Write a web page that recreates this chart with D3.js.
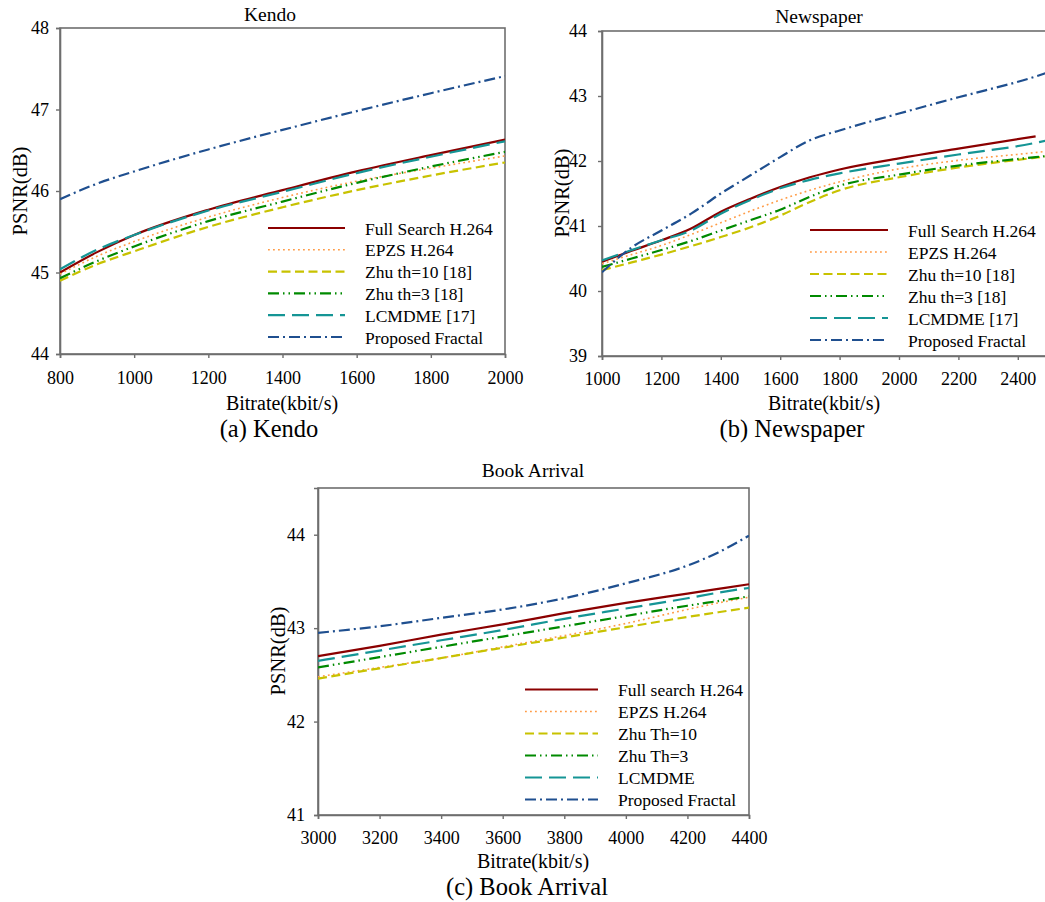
<!DOCTYPE html>
<html><head><meta charset="utf-8">
<script src="https://cdn.jsdelivr.net/npm/d3@7"></script>
<style>
body{margin:0;background:#fff;}
svg text{font-family:"Liberation Serif","Times New Roman",serif;fill:#000;}
</style></head>
<body><svg id="c" width="1045" height="902"></svg>
<script>
// ---------- DATA ----------
const seriesNames = ["Full Search H.264","EPZS H.264","Zhu th=10 [18]","Zhu th=3 [18]","LCMDME [17]","Proposed Fractal"];
const seriesNamesC = ["Full search H.264","EPZS H.264","Zhu Th=10","Zhu Th=3","LCMDME","Proposed Fractal"];

// (a) Kendo
const kendoX       = [800, 900, 1000, 1200, 1400, 1600, 1800, 2000];
const kendoFull    = [45.00, 45.25, 45.46, 45.77, 46.01, 46.24, 46.44, 46.63];
const kendoEPZS    = [44.98, 45.20, 45.38, 45.68, 45.92, 46.12, 46.28, 46.43];
const kendoZhu10   = [44.90, 45.10, 45.26, 45.56, 45.80, 46.01, 46.19, 46.35];
const kendoZhu3    = [44.93, 45.14, 45.32, 45.63, 45.87, 46.10, 46.30, 46.48];
const kendoLCMDME  = [45.04, 45.28, 45.46, 45.76, 45.99, 46.22, 46.42, 46.61];
const kendoFractal = [45.90, 46.09, 46.24, 46.51, 46.75, 46.98, 47.20, 47.41];

// (b) Newspaper
const newsX       = [1000, 1100, 1200, 1300, 1400, 1500, 1600, 1700, 1800, 2000, 2200, 2460, 2500];
const newsFull    = [40.45, 40.62, 40.78, 40.96, 41.22, 41.42, 41.60, 41.75, 41.87, 42.04, 42.19, 42.38, null];
const newsEPZS    = [40.42, 40.56, 40.70, 40.87, 41.05, 41.23, 41.40, 41.55, 41.68, 41.88, 42.01, 42.13, 42.15];
const newsZhu10   = [40.32, 40.44, 40.56, 40.69, 40.83, 40.98, 41.16, 41.37, 41.55, 41.75, 41.90, 42.05, 42.07];
const newsZhu3    = [40.37, 40.50, 40.63, 40.77, 40.93, 41.09, 41.25, 41.45, 41.62, 41.79, 41.93, 42.06, 42.08];
const newsLCMDME  = [40.47, 40.63, 40.78, 40.93, 41.19, 41.40, 41.58, 41.71, 41.81, 41.96, 42.10, 42.28, 42.32];
const newsFractal = [40.29, 40.67, 40.93, 41.19, 41.50, 41.78, 42.06, 42.32, 42.47, 42.73, 42.98, 43.30, 43.36];

// (c) Book Arrival
const bookX       = [3000, 3200, 3400, 3600, 3800, 4000, 4200, 4300, 4400];
const bookFull    = [42.70, 42.81, 42.93, 43.04, 43.16, 43.27, 43.37, 43.42, 43.47];
const bookEPZS    = [42.48, 42.58, 42.68, 42.80, 42.92, 43.05, 43.20, 43.27, 43.33];
const bookZhu10   = [42.46, 42.57, 42.68, 42.79, 42.90, 43.01, 43.12, 43.17, 43.22];
const bookZhu3    = [42.58, 42.69, 42.80, 42.91, 43.02, 43.13, 43.24, 43.29, 43.34];
const bookLCMDME  = [42.65, 42.76, 42.87, 42.98, 43.10, 43.21, 43.32, 43.38, 43.43];
const bookFractal = [42.95, 43.02, 43.11, 43.20, 43.32, 43.48, 43.67, 43.81, 43.99];

const ticksXa = [800, 1000, 1200, 1400, 1600, 1800, 2000];
const ticksYa = [44, 45, 46, 47, 48];
const ticksXb = [1000, 1200, 1400, 1600, 1800, 2000, 2200, 2400];
const ticksYb = [39, 40, 41, 42, 43, 44];
const ticksXc = [3000, 3200, 3400, 3600, 3800, 4000, 4200, 4400];
const ticksYc = [41, 42, 43, 44];

// ---------- STYLES ----------
const styles = [
  {color:"#8b0000", width:2.2, dash:null},
  {color:"#ff9b45", width:1.6, dash:"1.8,3.2"},
  {color:"#c8c200", width:2.2, dash:"9,4.5"},
  {color:"#008a00", width:2.2, dash:"11,4,1.5,4,1.5,4"},
  {color:"#159595", width:2.2, dash:"17,7"},
  {color:"#1f4f8f", width:2.2, dash:"11,4,2,4"}
];
const FONT = '"Liberation Serif","Times New Roman",serif';

const svg = d3.select("#c");

function panel(cfg){
  const g = svg.append("g");
  const x = d3.scaleLinear().domain(cfg.xDomain).range([cfg.left, cfg.right]);
  const y = d3.scaleLinear().domain(cfg.yDomain).range([cfg.bottom, cfg.top]);
  const clipId = "clip" + cfg.id;
  svg.append("clipPath").attr("id", clipId).append("rect")
    .attr("x", cfg.left).attr("y", cfg.top)
    .attr("width", cfg.right - cfg.left).attr("height", cfg.bottom - cfg.top);

  // frame
  g.append("rect").attr("x", cfg.left).attr("y", cfg.top)
    .attr("width", cfg.right - cfg.left).attr("height", cfg.bottom - cfg.top)
    .attr("fill", "none").attr("stroke", "#6e6e6e").attr("stroke-width", 1.6);

  // axes
  const xAxis = d3.axisBottom(x).tickValues(cfg.ticksX).tickSize(4).tickPadding(cfg.xPad).tickFormat(d3.format("d"));
  const yAxis = d3.axisLeft(y).tickValues(cfg.ticksY).tickSize(4).tickPadding(cfg.yPad).tickFormat(d3.format("d"));
  const xa = g.append("g").attr("transform", `translate(0,${cfg.bottom})`).call(xAxis);
  const ya = g.append("g").attr("transform", `translate(${cfg.left},0)`).call(yAxis);
  [xa, ya].forEach(a => {
    a.attr("font-family", null).attr("font-size", null);
    a.select(".domain").attr("stroke", "#6e6e6e").attr("stroke-width", 1.6);
    a.selectAll(".tick line").attr("stroke", "#6e6e6e").attr("stroke-width", 1.4);
    a.selectAll(".tick text").style("font-family", FONT).style("font-size", "18px").attr("fill", "#000");
  });

  // lines
  const lg = g.append("g").attr("clip-path", `url(#${clipId})`);
  cfg.series.forEach((vals, i) => {
    const line = d3.line()
      .defined(d => d[1] != null)
      .x(d => x(d[0])).y(d => y(d[1]))
      .curve(d3.curveMonotoneX);
    const data = cfg.xs.map((v, j) => [v, vals[j]]);
    const st = styles[i];
    lg.append("path").attr("d", line(data)).attr("fill", "none")
      .attr("stroke", st.color).attr("stroke-width", st.width)
      .attr("stroke-dasharray", st.dash);
  });

  // legend
  cfg.names.forEach((n, i) => {
    const yy = cfg.legY + i * cfg.legStep;
    const st = styles[i];
    g.append("line").attr("x1", cfg.legX).attr("x2", cfg.legX + cfg.legLen)
      .attr("y1", yy).attr("y2", yy)
      .attr("stroke", st.color).attr("stroke-width", st.width)
      .attr("stroke-dasharray", st.dash);
    g.append("text").attr("x", cfg.legTextX).attr("y", yy + 6.5)
      .style("font-size", "17.5px").text(n);
  });

  // texts
  g.append("text").attr("x", cfg.titleX).attr("y", cfg.titleY).attr("text-anchor", "middle")
    .style("font-size", "19.5px").text(cfg.title);
  g.append("text").attr("x", cfg.xlabX).attr("y", cfg.xlabY).attr("text-anchor", "middle")
    .style("font-size", "20px").text("Bitrate(kbit/s)");
  g.append("text").attr("transform", `translate(${cfg.ylabX},${cfg.ylabY}) rotate(-90)`)
    .attr("text-anchor", "middle").attr("dy", "0.35em")
    .style("font-size", "20.5px").text("PSNR(dB)");
  g.append("text").attr("x", cfg.capX).attr("y", cfg.capY).attr("text-anchor", "middle")
    .style("font-size", "24.5px").text(cfg.caption);
}

panel({
  id: "a", left: 60, right: 505, top: 28, bottom: 354,
  xDomain: [800, 2000], yDomain: [44, 48], ticksX: ticksXa, ticksY: ticksYa,
  xPad: 13, yPad: 7,
  xs: kendoX, series: [kendoFull, kendoEPZS, kendoZhu10, kendoZhu3, kendoLCMDME, kendoFractal],
  names: seriesNames, legX: 268, legLen: 77, legTextX: 365, legY: 228, legStep: 21.8,
  title: "Kendo", titleX: 270, titleY: 21,
  xlabX: 282, xlabY: 410, ylabX: 20, ylabY: 191,
  caption: "(a) Kendo", capX: 269, capY: 437
});

panel({
  id: "b", left: 602, right: 1047.5, top: 31, bottom: 356,
  xDomain: [1000, 2500], yDomain: [39, 44], ticksX: ticksXb, ticksY: ticksYb,
  xPad: 12, yPad: 11,
  xs: newsX, series: [newsFull, newsEPZS, newsZhu10, newsZhu3, newsLCMDME, newsFractal],
  names: seriesNames, legX: 810, legLen: 78, legTextX: 908, legY: 230, legStep: 22,
  title: "Newspaper", titleX: 819, titleY: 23,
  xlabX: 824, xlabY: 410, ylabX: 562, ylabY: 193,
  caption: "(b) Newspaper", capX: 792, capY: 437
});

panel({
  id: "c", left: 318, right: 749, top: 488, bottom: 815,
  xDomain: [3000, 4400], yDomain: [41, 44.5], ticksX: ticksXc, ticksY: ticksYc,
  xPad: 12, yPad: 9,
  xs: bookX, series: [bookFull, bookEPZS, bookZhu10, bookZhu3, bookLCMDME, bookFractal],
  names: seriesNamesC, legX: 525, legLen: 73, legTextX: 618, legY: 689.5, legStep: 22,
  title: "Book Arrival", titleX: 533, titleY: 477,
  xlabX: 533, xlabY: 868, ylabX: 278, ylabY: 651,
  caption: "(c) Book Arrival", capX: 527, capY: 895
});
</script>
</body></html>
